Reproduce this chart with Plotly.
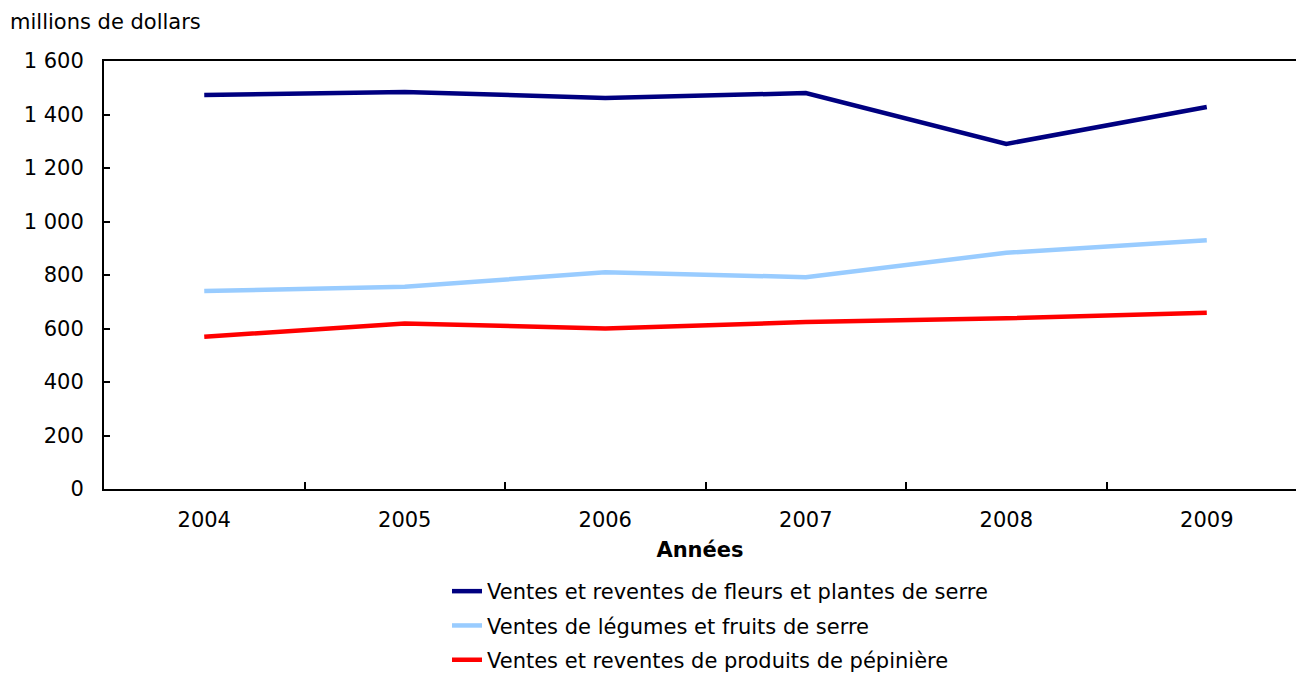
import plotly.graph_objects as go

years = ["2004", "2005", "2006", "2007", "2008", "2009"]
fleurs = [1473, 1484, 1462, 1480, 1290, 1428]
legumes = [740, 756, 810, 792, 883, 930]
pepiniere = [569, 619, 600, 624, 638, 659]

names = [
    "Ventes et reventes de fleurs et plantes de serre",
    "Ventes de légumes et fruits de serre",
    "Ventes et reventes de produits de pépinière",
]
colors = ["#000080", "#99CCFF", "#FF0000"]
series = [fleurs, legumes, pepiniere]

FONT = "DejaVu Sans, Verdana, sans-serif"
FS = 21
W, H = 1296, 673
L, T, B = 104, 61, 184
PW, PH = W - L, H - T - B

fig = go.Figure()
for i, (n, c, s) in enumerate(zip(names, colors, series)):
    fig.add_trace(go.Scatter(x=years, y=s, mode="lines", name=n,
                             legendgroup=f"g{i}",
                             line=dict(color=c, width=4.5)))

fig.update_layout(
    width=W, height=H,
    margin=dict(l=L, r=0, t=T, b=B, autoexpand=False),
    plot_bgcolor="white", paper_bgcolor="white",
    font=dict(family=FONT, size=FS, color="black"),
    separators=". ",
    showlegend=True,
    legend=dict(x=(447 - L) / PW, xanchor="left", y=(H - B - 571) / PH, yanchor="top",
                font=dict(size=FS), tracegroupgap=4,
                bgcolor="rgba(0,0,0,0)"),
    annotations=[dict(text="millions de dollars", xref="paper", yref="paper",
                      x=(8 - L) / PW, y=(H - B - 22) / PH, xanchor="left", yanchor="middle",
                      showarrow=False, font=dict(size=FS))],
)
fig.update_xaxes(type="category", range=[-0.5, 5.445], showline=True, linecolor="black",
                 linewidth=2, mirror=True, ticks="inside", ticklen=7, tickwidth=1.5,
                 tickcolor="black", tickson="boundaries", showgrid=False,
                 ticklabelstandoff=11, tickangle=0,
                 title=dict(text="<b>Années</b>", standoff=11, font=dict(size=FS)))
fig.update_yaxes(range=[0, 1600], dtick=200, tickformat=",d", showline=True,
                 linecolor="black", linewidth=2, ticks="inside", ticklen=6,
                 tickwidth=1.5, tickcolor="black", showgrid=False, zeroline=False,
                 ticklabelstandoff=14)

fig.write_html(
    "out.html",
    config={"displayModeBar": False},
    post_script="document.body.style.margin='0';document.body.style.overflow='hidden';",
)
